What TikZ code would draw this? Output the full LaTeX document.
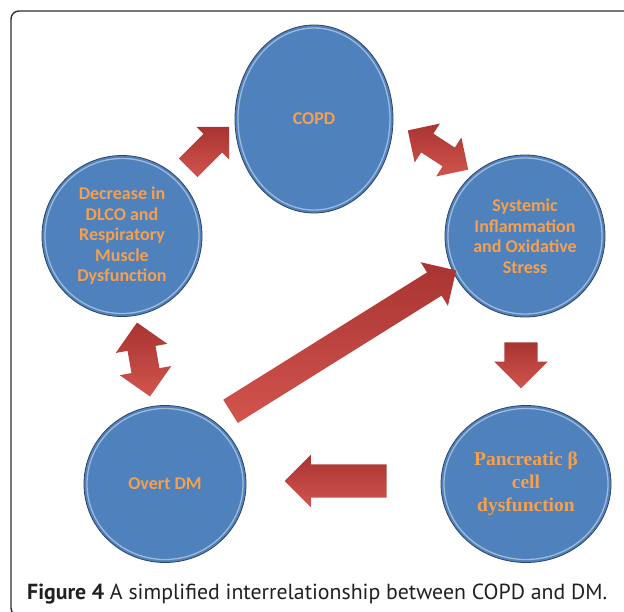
\documentclass[tikz,border=0pt]{standalone}
\usepackage{fontspec}
\setmainfont{PT Sans}
\newfontfamily\bubblefont{Carlito}
\newfontfamily\bubbleserif{Liberation Serif}
\usetikzlibrary{shapes.geometric,shapes.arrows,calc}
\definecolor{bubblefill}{HTML}{4F81BD}
\definecolor{bubbleline}{HTML}{2C4466}
\definecolor{bubbletext}{HTML}{F5A04E}
\definecolor{arrowlight}{HTML}{D2544E}
\definecolor{arrowdark}{HTML}{A83431}
\definecolor{framegrey}{HTML}{2E2E2E}
\definecolor{captiontext}{HTML}{231F20}
\tikzset{
  bubble/.style={ellipse, fill=bubblefill, draw=bubbleline, line width=0.8pt,
    inner sep=0pt, align=center, text=bubbletext,
    font=\bubblefont\bfseries\fontsize{18}{20.5}\selectfont,
    path picture={\draw[white, opacity=0.45, line width=1.3pt]
      let \p1=($(path picture bounding box.north east)-(path picture bounding box.south west)$)
      in (path picture bounding box.center)
      ellipse ({abs(\x1)/2-3pt} and {abs(\y1)/2-3pt});}},
  onearrow/.style={single arrow, draw=none, inner xsep=0pt, inner ysep=#1/2,
    top color=arrowdark, bottom color=arrowlight,
    single arrow tip angle=90},
  twoarrow/.style={double arrow, draw=none, inner xsep=0pt, inner ysep=#1/2,
    top color=arrowdark, bottom color=arrowlight,
    double arrow tip angle=90},
  caption/.style={font=\fontsize{21.8}{26}\selectfont, text=captiontext,
    inner sep=0pt},
}
\begin{document}
\begin{tikzpicture}[x=1pt,y=-1pt]
\useasboundingbox (0,0) rectangle (624,611);

% Outer frame, cut by the page on the right and at the bottom
\draw[framegrey, line width=1.4pt, rounded corners=8pt] (11,11) rectangle (660,616);

% ---- Circles -------------------------------------------------------------
\node[bubble, minimum width=158pt, minimum height=188pt] (copd) at (314,119) {COPD};
\node[bubble, minimum width=160pt, minimum height=161pt] (dlco) at (122,236)
  {Decrease in\\ DLCO and\\ Respiratory\\ Muscle\\ Dysfunction};
\node[bubble, minimum width=160pt, minimum height=162pt] (sys) at (525,236)
  {Systemic\\ Inflammation\\ and Oxidative\\ Stress};
\node[bubble, minimum width=162pt, minimum height=157pt] (dm) at (165,484) {Overt DM};
\node[bubble, minimum width=170pt, minimum height=157pt,
  font=\bubbleserif\bfseries\fontsize{19.5}{23}\selectfont] (beta) at (526,484)
  {Pancreatic β\\ cell\\ dysfunction};

% ---- Block arrows (shaft width as argument) -------------------------------
\node[onearrow=26pt, rotate=45, minimum height=58pt,
  single arrow head extend=10pt] (dlco-copd) at (204,152) {};
\node[twoarrow=22pt, rotate=-33, minimum height=72pt,
  double arrow head extend=12pt] (copd-sys) at (438,150) {};
\node[onearrow=33pt, rotate=-90, minimum height=46pt,
  single arrow head extend=10pt] (sys-beta) at (521,357) {};
\node[onearrow=33pt, rotate=180, minimum height=102pt,
  single arrow head extend=9.5pt] (beta-dm) at (344,481) {};
\node[twoarrow=28pt, rotate=100, minimum height=75pt,
  double arrow head extend=12pt] (dm-dlco) at (143.5,359.5) {};
\node[onearrow=27pt, rotate=32, minimum height=266pt,
  single arrow head extend=12pt] (dm-sys) at (337.5,344.5) {};

% ---- Caption -------------------------------------------------------------
\node[caption, anchor=base west] (cap) at (27,599)
  {\textbf{Figure 4} A simplified interrelationship between COPD and DM.};

\end{tikzpicture}
\end{document}
